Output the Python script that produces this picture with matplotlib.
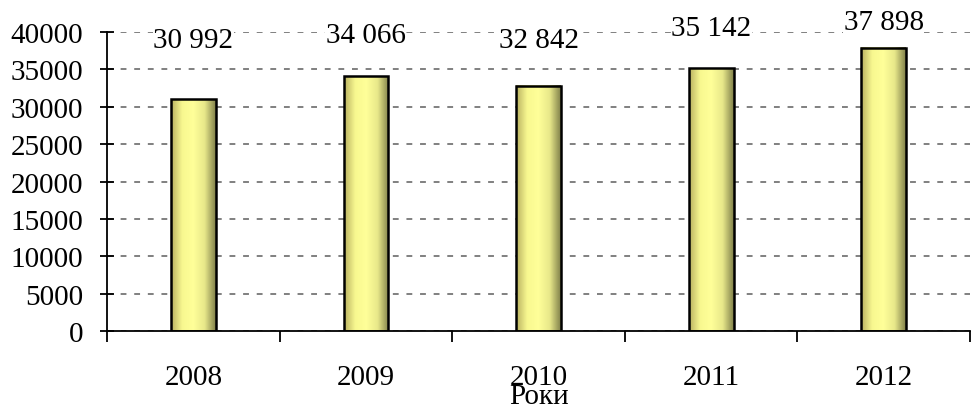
import numpy as np
import matplotlib.pyplot as plt
from matplotlib.colors import LinearSegmentedColormap

plt.rcParams['font.family'] = ['Liberation Serif', 'DejaVu Serif']

years = ['2008', '2009', '2010', '2011', '2012']
values = [30992, 34066, 32842, 35142, 37898]
labels = ['30 992', '34 066', '32 842', '35 142', '37 898']
label_y = [39000, 39600, 39000, 40500, 41400]

fig = plt.figure(figsize=(9.73, 4.14), dpi=100)
ax = fig.add_axes([0.110, 0.198, 0.887, 0.722])

x = np.arange(len(years))
width = 0.26
cmap = LinearSegmentedColormap.from_list(
    'bar', ['#b8b060', '#f8f890', '#ffff99', '#e8e88a', '#80804a'], N=256)
grad = np.linspace(0, 1, 256).reshape(1, -1)

bars = ax.bar(x, values, width, facecolor='none', edgecolor='black', lw=1.8, zorder=3)
for b in bars:
    x0, y0 = b.get_x(), b.get_y()
    ax.imshow(grad, cmap=cmap, aspect='auto', zorder=2,
              extent=(x0, x0 + b.get_width(), y0, y0 + b.get_height()))

for xi, lab, ly in zip(x, labels, label_y):
    ax.text(xi, ly, lab, ha='center', va='center', fontsize=21,
            bbox=dict(facecolor='white', edgecolor='none', pad=0.5), zorder=4,
            clip_on=False)

ax.set_xlim(-0.5, len(years) - 0.5)
ax.set_ylim(0, 40000)
ax.set_yticks(np.arange(0, 40001, 5000))
ax.yaxis.grid(True, color='#808080', linestyle=(0, (3, 4)), lw=1.4, zorder=1)
ax.set_axisbelow(True)

ax.set_xticks(x)
ax.set_xticklabels(years)
ax.set_xticks(np.arange(len(years) + 1) - 0.5, minor=True)
ax.tick_params(axis='x', which='major', length=0, pad=24, labelsize=21)
ax.tick_params(axis='x', which='minor', length=8, width=1.3, direction='out')
ax.tick_params(axis='y', length=10, width=1.3, direction='inout', labelsize=21, pad=12)

for s in ['top', 'right']:
    ax.spines[s].set_visible(False)
ax.spines['left'].set_linewidth(1.3)
ax.spines['bottom'].set_linewidth(1.3)

ax.set_xlabel('Роки', fontsize=21, labelpad=-5)

fig.savefig('out.png', dpi=100)
